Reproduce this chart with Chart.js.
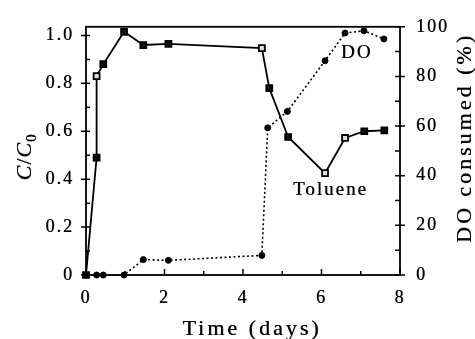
<!DOCTYPE html>
<html>
<head>
<meta charset="utf-8">
<script src="https://cdn.jsdelivr.net/npm/chart.js@4/dist/chart.umd.min.js"></script>
<style>
  html, body { margin: 0; padding: 0; background: #fff; }
  #wrap { width: 475px; height: 339px; }
</style>
</head>
<body>
<div id="wrap"><canvas id="doChart" width="475" height="339"></canvas></div>
<script>
// Toluene C/C0 (left axis) and dissolved oxygen consumed in % (right axis) vs time in days
const tolueneDays = [0, 0.27, 0.27, 0.44, 0.97, 1.46, 2.1, 4.48, 4.67, 5.15, 6.09, 6.6, 7.09, 7.6];
const tolueneRatio = [0, 0.49, 0.83, 0.88, 1.015, 0.96, 0.965, 0.947, 0.78, 0.576, 0.425, 0.572, 0.6, 0.604];
const doDays = [0, 0.27, 0.44, 0.97, 1.46, 2.1, 4.48, 4.63, 5.13, 6.09, 6.6, 7.08, 7.59];
const doConsumed = [0, 0, 0, 0, 6.2, 5.9, 7.9, 59.3, 65.9, 86.3, 97.5, 98.4, 95.1];

const xTicks = [0, 2, 4, 6, 8];
const leftTicks = [0, 0.2, 0.4, 0.6, 0.8, 1.0];
const rightTicks = [0, 20, 40, 60, 80, 100];

// squares that show up open rather than filled
const hollowSquares = [2, 7, 10, 11];

const serif = '"Liberation Serif", "Times New Roman", serif';
const ink = '#000';

function pairs(xs, ys) {
    return xs.map((x, i) => ({ x: x, y: ys[i] }));
}

// a small offset shadow thickens the serif text a little
function heavyText(ctx, on) {
    ctx.shadowColor = on ? 'rgba(0,0,0,0.7)' : 'rgba(0,0,0,0)';
    ctx.shadowOffsetX = on ? 0.5 : 0;
    ctx.shadowOffsetY = 0;
    ctx.shadowBlur = 0;
}

// frame, inward ticks, axis titles and series labels
const decorations = {
    id: 'decorations',
    beforeDraw(chart) {
        chart.ctx.letterSpacing = '2px';
        heavyText(chart.ctx, true);
    },
    beforeDatasetsDraw(chart) {
        heavyText(chart.ctx, false);
    },
    afterDraw(chart) {
        const { ctx, chartArea: a, scales } = chart;
        ctx.save();
        heavyText(ctx, false);
        ctx.strokeStyle = ink;
        ctx.fillStyle = ink;
        ctx.lineWidth = 1.8;
        ctx.strokeRect(a.left, a.top, a.right - a.left, a.bottom - a.top);

        ctx.lineWidth = 1.5;
        ctx.beginPath();
        for (let d = 0; d <= 8; d += 1) {
            const px = scales.x.getPixelForValue(d);
            const len = d % 2 === 0 ? 6 : 4;
            ctx.moveTo(px, a.bottom);
            ctx.lineTo(px, a.bottom - len);
        }
        for (let k = 0; k <= 10; k++) {
            const py = scales.y.getPixelForValue(k / 10);
            const major = k % 2 === 0;
            ctx.moveTo(a.left - (major ? 5 : 0), py);
            ctx.lineTo(a.left + 4, py);
        }
        for (let k = 0; k <= 10; k++) {
            const py = scales.y2.getPixelForValue(k * 10);
            const major = k % 2 === 0;
            ctx.moveTo(a.right - 5, py);
            ctx.lineTo(a.right + (major ? 5 : 0), py);
        }
        ctx.stroke();

        heavyText(ctx, true);

        // x title
        ctx.font = '22px ' + serif;
        ctx.letterSpacing = '3px';
        ctx.textAlign = 'center';
        ctx.textBaseline = 'alphabetic';
        ctx.fillText('Time (days)', (a.left + a.right) / 2 + 9, 335);

        // right title
        ctx.save();
        ctx.translate(471, 138);
        ctx.rotate(-Math.PI / 2);
        ctx.shadowOffsetX = 0;
        ctx.shadowOffsetY = -0.5;
        ctx.fillText('DO consumed (%)', 0, 0);
        ctx.restore();

        // left title: C/C0 with italic C and subscript 0
        ctx.save();
        ctx.translate(31, 157);
        ctx.rotate(-Math.PI / 2);
        ctx.shadowOffsetX = 0;
        ctx.shadowOffsetY = -0.5;
        ctx.letterSpacing = '1px';
        const parts = [
            { t: 'C', f: 'italic 22px ' + serif, dy: 0 },
            { t: '/', f: '22px ' + serif, dy: 0 },
            { t: 'C', f: 'italic 22px ' + serif, dy: 0 },
            { t: '0', f: '15px ' + serif, dy: 5 }
        ];
        let total = 0;
        parts.forEach(p => { ctx.font = p.f; p.w = ctx.measureText(p.t).width; total += p.w; });
        let cx = -total / 2;
        ctx.textAlign = 'left';
        parts.forEach(p => { ctx.font = p.f; ctx.fillText(p.t, cx, p.dy); cx += p.w; });
        ctx.restore();

        // series labels
        ctx.font = '19px ' + serif;
        ctx.letterSpacing = '2px';
        ctx.textAlign = 'left';
        ctx.textBaseline = 'middle';
        ctx.fillText('DO', 341, 53);
        ctx.fillText('Toluene', 293, 190);
        ctx.restore();
    }
};

const ctx = document.getElementById('doChart').getContext('2d');
new Chart(ctx, {
    type: 'scatter',
    data: {
        datasets: [
            {
                label: 'Toluene',
                data: pairs(tolueneDays, tolueneRatio),
                yAxisID: 'y',
                showLine: true,
                borderColor: ink,
                borderWidth: 1.8,
                pointStyle: 'rect',
                pointRadius: 4.2,
                pointBorderWidth: 1.8,
                pointBorderColor: ink,
                pointBackgroundColor: c => hollowSquares.includes(c.dataIndex) ? '#ddd' : '#111',
                clip: 8
            },
            {
                label: 'DO',
                data: pairs(doDays, doConsumed),
                yAxisID: 'y2',
                showLine: true,
                borderColor: ink,
                borderWidth: 1.6,
                borderDash: [2, 2.5],
                pointStyle: 'circle',
                pointRadius: 3,
                pointBorderWidth: 1,
                pointBorderColor: ink,
                pointBackgroundColor: ink,
                clip: 8
            }
        ]
    },
    options: {
        responsive: false,
        animation: false,
        events: [],
        layout: { padding: { top: 23 } },
        plugins: { legend: { display: false }, tooltip: { enabled: false } },
        scales: {
            x: {
                type: 'linear',
                min: 0,
                max: 8,
                afterFit: s => { s.height = 64; },
                afterBuildTicks: s => { s.ticks = xTicks.map(v => ({ value: v })); },
                grid: { display: false, drawTicks: false },
                border: { display: false },
                ticks: {
                    padding: 12,
                    color: ink,
                    font: { family: serif, size: 18 },
                    callback: v => String(v)
                }
            },
            y: {
                position: 'left',
                min: 0,
                max: 1.036,
                afterFit: s => { s.width = 86; },
                afterBuildTicks: s => { s.ticks = leftTicks.map(v => ({ value: v })); },
                grid: { display: false, drawTicks: false },
                border: { display: false },
                ticks: {
                    padding: 12,
                    color: ink,
                    font: { family: serif, size: 18 },
                    callback: v => v === 0 ? '0' : v.toFixed(1)
                }
            },
            y2: {
                position: 'right',
                min: 0,
                max: 100,
                afterFit: s => { s.width = 75; },
                afterBuildTicks: s => { s.ticks = rightTicks.map(v => ({ value: v })); },
                grid: { display: false, drawTicks: false },
                border: { display: false },
                ticks: {
                    padding: 16,
                    color: ink,
                    font: { family: serif, size: 18 },
                    callback: v => String(v)
                }
            }
        }
    },
    plugins: [decorations]
});
</script>
</body>
</html>
